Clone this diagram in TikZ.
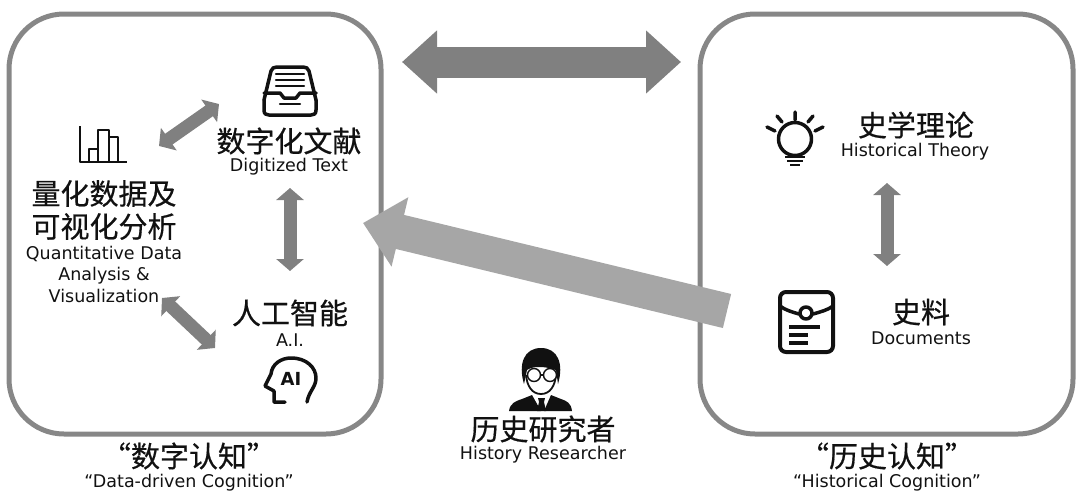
\documentclass[tikz,border=0pt]{standalone}
\usepackage{fontspec}
\usepackage{xcolor}
\usetikzlibrary{arrows.meta,positioning,calc}
\setmainfont{DejaVu Sans}
\newfontfamily\cjkfont[FakeBold=0.5]{Noto Sans CJK SC}
\definecolor{boxgray}{HTML}{878787}
\definecolor{arrowgray}{HTML}{808080}
\definecolor{lightarrow}{HTML}{A6A6A6}
\definecolor{inkblack}{HTML}{111111}

\begin{document}
\begin{tikzpicture}[
  x=1pt, y=-1pt,
  panel/.style={draw=boxgray, line width=5pt, rounded corners=55pt},
  zh/.style={font=\fontsize{29}{33}\selectfont\cjkfont, text=inkblack, align=center, inner sep=0pt},
  en/.style={font=\fontsize{17.5}{21.5}\selectfont, text=inkblack, align=center, inner sep=0pt},
  icon/.style={draw=inkblack, line width=3.5pt, line cap=round, line join=round},
  dbl/.style={arrowgray, line width=13pt, {Triangle[length=12pt, width=27pt]}-{Triangle[length=12pt, width=27pt]}},
  top/.style={arrowgray, line width=31pt, {Triangle[length=35pt, width=61pt]}-{Triangle[length=35pt, width=61pt]}},
  wide/.style={lightarrow, line width=35pt, -{Triangle[length=38pt, width=69pt]}}
]
  \useasboundingbox (0,0) rectangle (1077,498);

  % panels
  \draw[panel] (9,14) rectangle (381,434);
  \draw[panel] (700,14) rectangle (1073,434);

  % left labels
  \node[zh] (digitzh) at (289,141) {数字化文献};
  \node[en] (digiten) at (289,167) {Digitized Text};
  \node[zh] (quantzh) at (104,210) {量化数据及\\可视化分析};
  \node[en] (quanten) at (104,274) {Quantitative Data\\Analysis \&\\Visualization};
  \node[zh] (aizh) at (290,313) {人工智能};
  \node[en] (aien) at (290,340) {A.I.};
  \node[zh] (datazh) at (189,456) {“数字认知”};
  \node[en] (dataen) at (189,483) {“Data-driven Cognition”};

  % right labels
  \node[zh] (theoryzh) at (916,125) {史学理论};
  \node[en] (theoryen) at (915,152) {Historical Theory};
  \node[zh] (docszh) at (921,312) {史料};
  \node[en] (docsen) at (921,338) {Documents};
  \node[zh] (histzh) at (887,456) {“历史认知”};
  \node[en] (histen) at (887,483) {“Historical Cognition”};

  % researcher
  \node[zh] (reszh) at (543,429) {历史研究者};
  \node[en] (resen) at (543,455) {History Researcher};

  % arrow ends
  \coordinate (topL) at (402,62);
  \coordinate (topR) at (681,62);
  \coordinate (quantend) at (159,146);
  \coordinate (digitend) at (219,104);
  \coordinate (digitlow) at (290,188);
  \coordinate (ailow) at (290,271);
  \coordinate (quantlow) at (162,298);
  \coordinate (aiend) at (215,348);
  \coordinate (theorylow) at (887,183);
  \coordinate (docslow) at (887,266);
  \coordinate (wideS) at (727,311);
  \coordinate (wideE) at (363,223);

  \draw[top] (topL) -- (topR);
  \draw[wide] (wideS) -- (wideE);
  \draw[dbl] (quantend) -- (digitend);
  \draw[dbl] (digitlow) -- (ailow);
  \draw[dbl] (quantlow) -- (aiend);
  \draw[dbl] (theorylow) -- (docslow);

  % chart icon
  \draw[icon, line width=2.4pt, line cap=butt] (80,126) -- (80,162) -- (127,162);
  \draw[icon, line width=2.4pt, line cap=butt] (89,162) -- (89,149) -- (98,149) -- (98,162);
  \draw[icon, line width=2.4pt, line cap=butt] (98,149) -- (98,130) -- (109,130) -- (109,162);
  \draw[icon, line width=2.4pt, line cap=butt] (109,137) -- (118,137) -- (118,162);

  % tray icon
  \draw[icon] (264,100) -- (271,71) .. controls (272,68) and (274,67) .. (277,67) -- (303,67) .. controls (306,67) and (308,68) .. (309,71) -- (316,100);
  \draw[icon] (264,100) -- (264,110) .. controls (264,114) and (266,115) .. (269,115) -- (311,115) .. controls (314,115) and (316,114) .. (316,110) -- (316,100);
  \draw[icon] (264,93) -- (280,93) -- (284,98) -- (296,98) -- (300,93) -- (316,93);
  \draw[icon, line width=2.4pt] (276,74) -- (304,74) (276,80) -- (304,80) (276,86) -- (304,86);
  \draw[icon, line width=2.4pt] (280,104) -- (300,104);

  % head icon
  \draw[icon] (285,402) -- (274,402) -- (274,391) -- (265,386) -- (271,374)
    .. controls (272,364) and (281,358) .. (291,358) .. controls (307,358) and (316,368) .. (316,378)
    .. controls (316,387) and (309,391) .. (307,402);
  \node[font=\bfseries\fontsize{18}{18}\selectfont, text=inkblack, inner sep=0pt] (aiglyph) at (291,379) {AI};

  % lamp icon
  \draw[icon] (795,139) circle (16.5);
  \draw[icon] (795,112) -- (795,120) (777,116) -- (782,122) (813,116) -- (808,122) (767,127) -- (775,131) (823,127) -- (815,131);
  \draw[icon, line width=2.6pt, line cap=butt] (785,157) -- (805,157) (787,161) -- (803,161) (790,165) -- (800,165);

  % document icon
  \draw[icon, line width=4pt, rounded corners=6pt] (780,292) rectangle (833,352);
  \draw[icon] (780,306) .. controls (785,310) and (792,312) .. (799,314) (813,314) .. controls (820,312) and (828,310) .. (833,306);
  \draw[icon] (806,313) circle (6);
  \draw[icon, line cap=butt] (789,327) -- (820,327) (789,335) -- (808,335) (789,343) -- (808,343);

  % researcher icon
  \fill[inkblack] (509,411) .. controls (510,403) and (516,401) .. (522,399) -- (532,395) -- (541,411) -- cycle;
  \fill[inkblack] (572,411) .. controls (571,403) and (567,401) .. (561,399) -- (551,395) -- (544,411) -- cycle;
  \fill[inkblack] (538,398) -- (545,398) -- (544,402) -- (546,411) -- (537,411) -- (539,402) -- cycle;
  \draw[inkblack, line width=1.8pt] (526,375) .. controls (527,386) and (532,394) .. (541,394) .. controls (550,394) and (555,386) .. (556,375);
  \fill[inkblack] (524,384) .. controls (518,364) and (524,348) .. (541,348) .. controls (558,348) and (564,364) .. (558,384) -- (556,370) .. controls (548,367) and (534,365) .. (527,370) -- cycle;
  \draw[inkblack, line width=1.4pt, fill=white] (534,375) circle (6.5) (550,375) circle (6.5);
  \draw[inkblack, line width=1.4pt] (540,375) -- (544,375);
\end{tikzpicture}
\end{document}
